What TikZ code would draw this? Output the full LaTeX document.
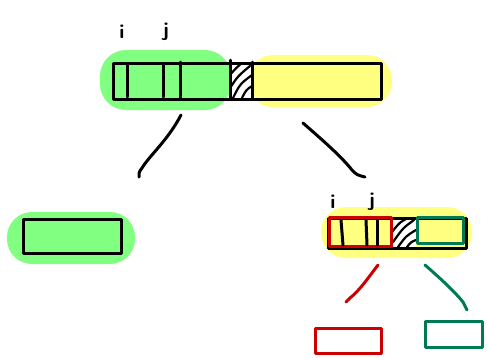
\documentclass[tikz,border=0pt]{standalone}
\usetikzlibrary{calc}
\definecolor{hlgreen}{HTML}{80FF80}
\definecolor{hlyellow}{HTML}{FFFF80}
\definecolor{penred}{HTML}{CC0000}
\definecolor{pengreen}{HTML}{007A55}
\tikzset{
  ink/.style={line width=3pt, line cap=round, line join=round},
  hatch/.style={line width=2.2pt, line cap=round},
  lbl/.style={font=\sffamily\bfseries\fontsize{20}{20}\selectfont, inner sep=0pt}
}
\begin{document}
\begin{tikzpicture}[x=1pt,y=-1pt]
\useasboundingbox (0,0) rectangle (487,357);
% ---------- top node ----------
\fill[hlgreen, rounded corners=26pt] (100,50) rectangle (231,110);
\fill[hlyellow, rounded corners=25pt] (248,55) rectangle (392,107);
\fill[white] (230,62) rectangle (252,98);
\draw[hatch] (230,75) .. controls (236,68) .. (242,63);
\draw[hatch] (230,88) .. controls (238,76) .. (250,66);
\draw[hatch] (233,98) .. controls (240,84) .. (252,75);
\draw[hatch] (242,98) .. controls (246,90) .. (252,86);
\node[draw, ink, minimum width=268pt, minimum height=36pt, anchor=north west, inner sep=0pt] (top) at (112,62) {};
\draw[ink] (127,64) -- (127,97);
\draw[ink] (163,64) -- (163,97);
\draw[ink] (180,62) -- (180,98);
\draw[ink] (230,60) -- (230,98);
\draw[ink] (252,62) -- (252,98);
\node[lbl] (ti) at (122,32) {i};
\node[lbl] (tj) at (166,32) {j};
% ---------- connectors from top ----------
\coordinate (l1) at (181,115);
\coordinate (l2) at (139,177);
\coordinate (r1) at (303,123);
\coordinate (r2) at (365,177);
\draw[ink] (l1) .. controls (168,140) and (150,155) .. (142,168) .. controls (139,172) .. (l2);
\draw[ink] (r1) .. controls (320,138) and (340,155) .. (352,170) .. controls (357,175) .. (r2);
% ---------- left node ----------
\fill[hlgreen, rounded corners=25pt] (7,212) rectangle (135,264);
\node[draw, ink, minimum width=98pt, minimum height=34pt, anchor=north west, inner sep=0pt] (left) at (22,218) {};
% ---------- right node ----------
\fill[hlyellow, rounded corners=25pt] (321,207) rectangle (472,258);
\fill[white] (392,217) rectangle (416,247);
\draw[hatch] (392,232) .. controls (400,222) .. (408,218);
\draw[hatch] (393,242) .. controls (403,228) .. (414,220);
\draw[hatch] (398,247) .. controls (406,236) .. (416,230);
\draw[hatch] (407,247) .. controls (411,242) .. (416,240);
\node[draw, ink, minimum width=138pt, minimum height=30pt, anchor=north west, inner sep=0pt] (right) at (327,217) {};
\draw[ink, penred] (329,217) rectangle (391,246);
\draw[ink, pengreen] (417,217) rectangle (463,243);
\draw[ink] (341,220) -- (343,245);
\draw[ink] (366,220) -- (367,245);
\draw[ink] (377,220) -- (377,245);
\node[lbl] (ri) at (333,202) {i};
\node[lbl] (rj) at (372,202) {j};
% ---------- bottom connectors ----------
\coordinate (a1) at (378,265);
\coordinate (a2) at (346,302);
\coordinate (b1) at (425,265);
\coordinate (b2) at (467,310);
\draw[ink, penred] (a1) .. controls (368,278) and (360,290) .. (350,298) -- (a2);
\draw[ink, pengreen] (b1) .. controls (440,278) and (455,292) .. (463,302) -- (b2);
% ---------- bottom boxes ----------
\node[draw, ink, penred, minimum width=66pt, minimum height=25pt, anchor=north west, inner sep=0pt] (rbox) at (314,327) {};
\node[draw, ink, pengreen, minimum width=57pt, minimum height=26pt, anchor=north west, inner sep=0pt] (gbox) at (424,320) {};
\end{tikzpicture}
\end{document}
